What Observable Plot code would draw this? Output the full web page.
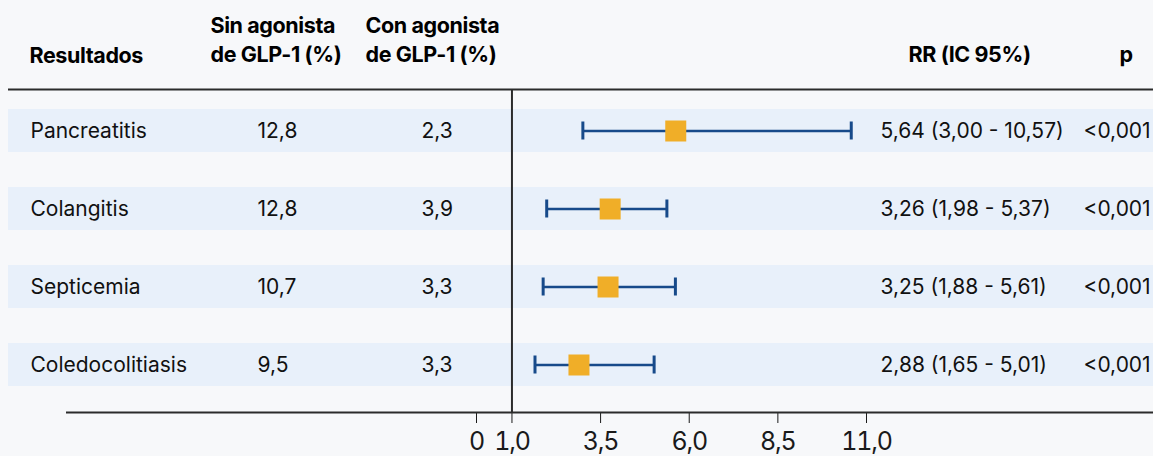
<!DOCTYPE html>
<html>
<head>
<meta charset="utf-8">
<script src="https://cdn.jsdelivr.net/npm/d3@7"></script>
<script src="https://cdn.jsdelivr.net/npm/@observablehq/plot@0.6"></script>
<style>
  html, body { margin: 0; padding: 0; background: #f7f8fa; }
  #chart svg { display: block; }
</style>
</head>
<body>
<div id="chart"></div>
<script>
// ---- Data ----
const outcomes = ["Pancreatitis", "Colangitis", "Septicemia", "Coledocolitiasis"];
const sinGLP1 = [12.8, 12.8, 10.7, 9.5];
const conGLP1 = [2.3, 3.9, 3.3, 3.3];
const rrLabel = [5.64, 3.26, 3.25, 2.88];
const rrMarker = [5.62, 3.77, 3.71, 2.89];   // marker positions as drawn
const ciLow = [3.00, 1.98, 1.88, 1.65];
const ciHigh = [10.57, 5.37, 5.61, 5.01];
const pValues = ["<0,001", "<0,001", "<0,001", "<0,001"];
const tickValues = [0, 1, 3.5, 6, 8.5, 11];
const tickLabels = ["0", "1,0", "3,5", "6,0", "8,5", "11,0"];
const headers = {
  outcome: "Resultados",
  sin: "Sin agonista\nde GLP-1 (%)",
  con: "Con agonista\nde GLP-1 (%)",
  rr: "RR (IC 95%)",
  p: "p"
};

// ---- Table built from arrays ----
const comma = (v, d) => v.toFixed(d).replace(".", ",");
const rows = outcomes.map((name, i) => ({
  i, name,
  sin: comma(sinGLP1[i], 1),
  con: comma(conGLP1[i], 1),
  marker: rrMarker[i],
  lo: ciLow[i], hi: ciHigh[i],
  rrText: `${comma(rrLabel[i], 2)} (${comma(ciLow[i], 2)} - ${comma(ciHigh[i], 2)})`,
  p: pValues[i]
}));

// ---- Layout ----
const W = 1153, H = 456;
const mTop = 89, mBottom = 44, mLeft = 8, mRight = 0;
const xRange = [476, 866];                 // pixels for domain [0, 11]
const yRange = [130.5, 364.5];             // pixels for rows 0..3
const pxToX = p => (p - xRange[0]) / (xRange[1] - xRange[0]) * 11;
const pxToY = p => (p - yRange[0]) / (yRange[1] - yRange[0]) * 3;
const bandHalf = 21.5 / 78;
const capHalf = 9 / 78;
const lineColor = "#2b2b2b";
const navy = "#174a8a";
const fs = 21;
const hfs = 21.5;

const hdr = (text, dx, dy, extra = {}) =>
  Plot.text([text], { frameAnchor: "top-left", dx, dy, textAnchor: "start", lineAnchor: "middle",
    fontSize: hfs, fontWeight: 700, fill: "#000", ...extra });

const chart = Plot.plot({
  width: W, height: H,
  marginTop: mTop, marginBottom: mBottom, marginLeft: mLeft, marginRight: mRight,
  style: { background: "#f7f8fa", fontFamily: "Inter, 'Noto Sans', sans-serif", fontSize: "25px", color: "#1a1a1a" },
  x: { domain: [0, 11], range: xRange, ticks: tickValues,
       tickFormat: d => tickLabels[tickValues.indexOf(d)], tickSize: 11, tickPadding: 9, label: null },
  y: { domain: [0, 3], range: yRange, axis: null },
  marks: [
    // row bands
    Plot.rect(rows, { y1: d => d.i - bandHalf, y2: d => d.i + bandHalf, fill: "#e8f0fa" }),
    // top rule and bottom axis line
    Plot.ruleY([pxToY(mTop)], { stroke: lineColor, strokeWidth: 2 }),
    Plot.ruleY([pxToY(H - mBottom)], { x1: pxToX(66), x2: pxToX(W), stroke: lineColor, strokeWidth: 2 }),
    // reference line at RR = 1
    Plot.ruleX([1], { stroke: lineColor, strokeWidth: 2 }),
    // CI whiskers
    Plot.ruleY(rows, { y: "i", x1: "lo", x2: "hi", stroke: navy, strokeWidth: 2.6 }),
    Plot.ruleX(rows, { x: "lo", y1: d => d.i - capHalf, y2: d => d.i + capHalf, stroke: navy, strokeWidth: 3 }),
    Plot.ruleX(rows, { x: "hi", y1: d => d.i - capHalf, y2: d => d.i + capHalf, stroke: navy, strokeWidth: 3 }),
    // RR markers
    Plot.dot(rows, { x: "marker", y: "i", symbol: "square", r: 11.85, fill: "#f0ae28", stroke: null }),
    // row texts
    Plot.text(rows, { y: "i", text: "name", frameAnchor: "left", dx: 22, textAnchor: "start", fontSize: fs, fill: "#111" }),
    Plot.text(rows, { y: "i", text: "sin", frameAnchor: "left", dx: 249, textAnchor: "start", fontSize: fs, fill: "#111" }),
    Plot.text(rows, { y: "i", text: "con", frameAnchor: "left", dx: 413, textAnchor: "start", fontSize: fs, fill: "#111" }),
    Plot.text(rows, { y: "i", text: "rrText", frameAnchor: "left", dx: 872, textAnchor: "start", fontSize: fs, fill: "#111" }),
    Plot.text(rows, { y: "i", text: "p", frameAnchor: "left", dx: 1075, textAnchor: "start", fontSize: fs, fill: "#111" }),
    // headers
    hdr(headers.outcome, 21, -33),
    hdr(headers.sin, 202, -51, { lineHeight: 1.33 }),
    hdr(headers.con, 357, -51, { lineHeight: 1.33 }),
    hdr(headers.rr, 900, -34),
    hdr(headers.p, 1111, -34)
  ]
});
// tighten axis tick label spacing
chart.querySelectorAll('[aria-label^="x-axis"] text').forEach(t => t.setAttribute("letter-spacing", "-1.2"));
chart.querySelectorAll('g[font-weight="700"] text').forEach(t => t.setAttribute("letter-spacing", "-0.4"));
document.getElementById("chart").appendChild(chart);
</script>
</body>
</html>
